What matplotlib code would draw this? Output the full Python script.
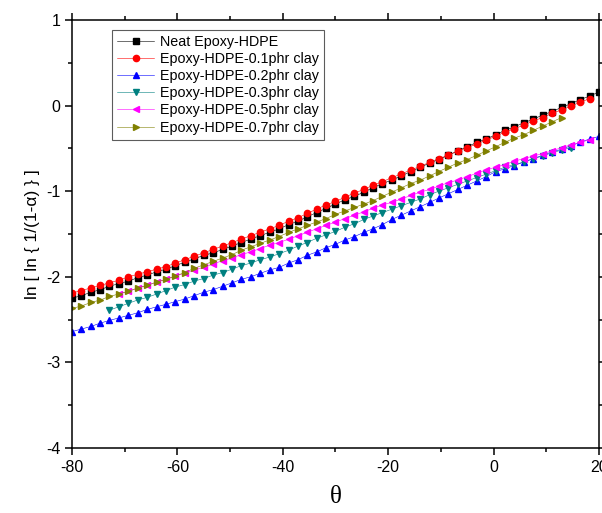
import numpy as np
import matplotlib.pyplot as plt
from matplotlib.ticker import MultipleLocator

plt.rcParams['font.family'] = ['Liberation Sans', 'DejaVu Sans']
plt.rcParams['axes.unicode_minus'] = False

# theta grid shared by all series (index i)
theta = [-80.0, -78.2, -76.4, -74.6, -72.9, -71.1, -69.3, -67.5, -65.7, -63.9,
         -62.1, -60.4, -58.6, -56.8, -55.0, -53.2, -51.4, -49.6, -47.9, -46.1,
         -44.3, -42.5, -40.7, -38.9, -37.1, -35.4, -33.6, -31.8, -30.0, -28.2,
         -26.4, -24.6, -22.9, -21.1, -19.3, -17.5, -15.7, -13.9, -12.1, -10.4,
         -8.6, -6.8, -5.0, -3.2, -1.4, 0.4, 2.1, 3.9, 5.7, 7.5,
         9.3, 11.1, 12.9, 14.6, 16.4, 18.2, 20.0]

neat = [-2.25, -2.22, -2.18, -2.15, -2.11, -2.08, -2.05, -2.01, -1.98, -1.94,
        -1.91, -1.87, -1.83, -1.79, -1.75, -1.72, -1.68, -1.64, -1.60, -1.56,
        -1.52, -1.48, -1.44, -1.39, -1.35, -1.30, -1.25, -1.20, -1.15, -1.10,
        -1.06, -1.01, -0.96, -0.91, -0.87, -0.82, -0.77, -0.72, -0.67, -0.63,
        -0.58, -0.53, -0.48, -0.43, -0.39, -0.34, -0.29, -0.25, -0.20, -0.16,
        -0.11, -0.07, -0.02, 0.02, 0.07, 0.11, 0.16]

clay01 = [-2.19, -2.16, -2.13, -2.10, -2.07, -2.04, -2.00, -1.97, -1.94, -1.91,
          -1.88, -1.84, -1.80, -1.76, -1.72, -1.68, -1.64, -1.60, -1.56, -1.52,
          -1.48, -1.44, -1.40, -1.35, -1.31, -1.26, -1.21, -1.16, -1.12, -1.07,
          -1.02, -0.98, -0.93, -0.89, -0.84, -0.80, -0.75, -0.71, -0.66, -0.62,
          -0.58, -0.53, -0.49, -0.45, -0.40, -0.36, -0.31, -0.27, -0.23, -0.18,
          -0.14, -0.09, -0.05, -0.01, 0.04, 0.08]

clay02 = [-2.64, -2.61, -2.58, -2.54, -2.51, -2.48, -2.45, -2.42, -2.38, -2.35,
          -2.32, -2.29, -2.26, -2.22, -2.18, -2.15, -2.11, -2.07, -2.03, -2.00,
          -1.96, -1.92, -1.89, -1.84, -1.80, -1.75, -1.71, -1.66, -1.62, -1.57,
          -1.53, -1.48, -1.44, -1.39, -1.33, -1.28, -1.23, -1.18, -1.13, -1.08,
          -1.03, -0.98, -0.93, -0.88, -0.83, -0.77, -0.74, -0.70, -0.66, -0.62,
          -0.58, -0.54, -0.51, -0.47, -0.43, -0.39, -0.36]

# starts at theta[4]
clay03 = [-2.39, -2.35, -2.31, -2.27, -2.24, -2.20,
          -2.16, -2.12, -2.09, -2.05, -2.02, -1.98, -1.95, -1.91, -1.87, -1.84,
          -1.80, -1.77, -1.73, -1.69, -1.64, -1.60, -1.55, -1.51, -1.47, -1.42,
          -1.38, -1.33, -1.29, -1.25, -1.21, -1.17, -1.13, -1.09, -1.04, -1.00,
          -0.96, -0.92, -0.88, -0.84, -0.80, -0.76, -0.72, -0.69, -0.66, -0.62,
          -0.59, -0.55, -0.52, -0.49]

# starts at theta[5]
clay05 = [-2.20, -2.17, -2.13, -2.10, -2.06,
          -2.03, -1.99, -1.96, -1.92, -1.89, -1.85, -1.81, -1.78, -1.74, -1.71,
          -1.67, -1.63, -1.60, -1.56, -1.52, -1.48, -1.44, -1.40, -1.36, -1.32,
          -1.28, -1.24, -1.20, -1.16, -1.13, -1.09, -1.05, -1.01, -0.98, -0.94,
          -0.90, -0.87, -0.83, -0.79, -0.75, -0.72, -0.69, -0.65, -0.62, -0.59,
          -0.56, -0.53, -0.49, -0.46, -0.43, -0.40]

clay07 = [-2.37, -2.34, -2.30, -2.27, -2.23, -2.20, -2.17, -2.13, -2.10, -2.06,
          -2.03, -1.99, -1.95, -1.90, -1.86, -1.82, -1.78, -1.74, -1.69, -1.65,
          -1.61, -1.57, -1.53, -1.48, -1.44, -1.40, -1.36, -1.32, -1.27, -1.23,
          -1.19, -1.15, -1.11, -1.06, -1.01, -0.96, -0.91, -0.87, -0.82, -0.77,
          -0.72, -0.67, -0.63, -0.58, -0.53, -0.48, -0.43, -0.38, -0.34, -0.29,
          -0.24, -0.19, -0.14]

labels = ['Neat Epoxy-HDPE', 'Epoxy-HDPE-0.1phr clay', 'Epoxy-HDPE-0.2phr clay',
          'Epoxy-HDPE-0.3phr clay', 'Epoxy-HDPE-0.5phr clay', 'Epoxy-HDPE-0.7phr clay']
series = [neat, clay01, clay02, clay03, clay05, clay07]
starts = [0, 0, 0, 4, 5, 0]
colors = ['black', 'red', 'blue', '#008080', '#ff00ff', '#808000']
markers = ['s', 'o', '^', 'v', '<', '>']

fig = plt.figure(figsize=(6.02, 5.13), dpi=100)
ax = fig.add_axes([0.1196, 0.1267, 0.8754, 0.8343])

for y, s, c, m, lab in zip(series, starts, colors, markers, labels):
    x = theta[s:s + len(y)]
    ax.plot(x, y, color=c, lw=0.4, marker=m, ms=4.5,
            mec=c, mfc=c, label=lab)

ax.set_xlim(-80, 20)
ax.set_ylim(-4, 1)
ax.xaxis.set_major_locator(MultipleLocator(20))
ax.xaxis.set_minor_locator(MultipleLocator(10))
ax.yaxis.set_major_locator(MultipleLocator(1))
ax.yaxis.set_minor_locator(MultipleLocator(0.5))
ax.tick_params(which='both', direction='out', top=True, right=True,
               width=1.1, labelsize=11.5)
ax.tick_params(which='major', length=5)
ax.tick_params(which='minor', length=3)
for sp in ax.spines.values():
    sp.set_linewidth(1.1)

ax.set_xlabel('θ', family=['Liberation Serif', 'DejaVu Serif'], fontsize=18, labelpad=8)
ax.set_ylabel('ln [ ln { 1/(1-α) } ]', fontsize=12.5, labelpad=4)

leg = ax.legend(loc='upper left', bbox_to_anchor=(0.076, 0.977), borderaxespad=0,
                fontsize=10.3, frameon=True, fancybox=False, handlelength=2.6,
                handletextpad=0.4, labelspacing=0.22, borderpad=0.35)
leg.get_frame().set_edgecolor('#333333')
leg.get_frame().set_linewidth(0.8)

fig.savefig('out.png', dpi=100)
